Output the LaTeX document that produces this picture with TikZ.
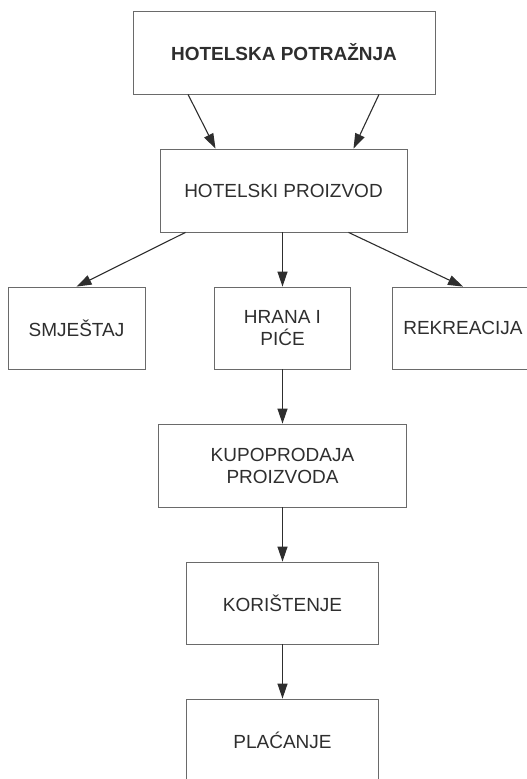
\documentclass[tikz,border=0pt]{standalone}
\usepackage{fontspec}
\setmainfont{Liberation Sans}
\usepackage{tikz}
\usetikzlibrary{arrows.meta}

\definecolor{boxline}{HTML}{6A6A6A}
\definecolor{ink}{HTML}{2E2E2E}

\begin{document}
\begin{tikzpicture}
  [x=1pt,y=-1pt,
   every node/.style={draw=boxline,line width=.8pt,rectangle,align=center,
     text=ink,font=\fontsize{19}{22}\selectfont,inner sep=0pt},
   arr/.style={draw=ink,line width=1.1pt,-{Triangle[length=15pt,width=10pt]}}]
  \useasboundingbox (0,0) rectangle (527,779);
  \clip (0,0) rectangle (527,779);

  \node[minimum width=302,minimum height=83,font=\fontsize{19}{22}\selectfont\bfseries]
    (potraznja) at (284,52.5) {HOTELSKA POTRAŽNJA};
  \node[minimum width=247,minimum height=83] (proizvod) at (283.5,190.5) {HOTELSKI PROIZVOD};
  \node[minimum width=137,minimum height=82] (smjestaj) at (76.5,328) {SMJEŠTAJ};
  \node[minimum width=136,minimum height=82] (hrana) at (282.5,328) {HRANA I\\PIĆE};
  \node[minimum width=142,minimum height=82] (rekreacija) at (463,328) {REKREACIJA};
  \node[minimum width=248,minimum height=83] (kupoprodaja) at (282.5,465.5) {KUPOPRODAJA\\PROIZVODA};
  \node[minimum width=192,minimum height=82] (koristenje) at (282.5,603) {KORIŠTENJE};
  \node[minimum width=192,minimum height=83] (placanje) at (282.5,740.5) {PLAĆANJE};

  \draw[arr] ([xshift=-96]potraznja.south) -- ([xshift=-68]proizvod.north);
  \draw[arr] ([xshift=95]potraznja.south) -- ([xshift=70]proizvod.north);
  \draw[arr] ([xshift=-98]proizvod.south) -- (smjestaj.north);
  \draw[arr] ([xshift=65]proizvod.south) -- (rekreacija.north);
  \draw[arr] (proizvod.south -| hrana.north) -- (hrana.north);

  \foreach \from/\to in {hrana/kupoprodaja,kupoprodaja/koristenje,koristenje/placanje}
    \draw[arr] (\from.south) -- (\to.north);

\end{tikzpicture}
\end{document}
